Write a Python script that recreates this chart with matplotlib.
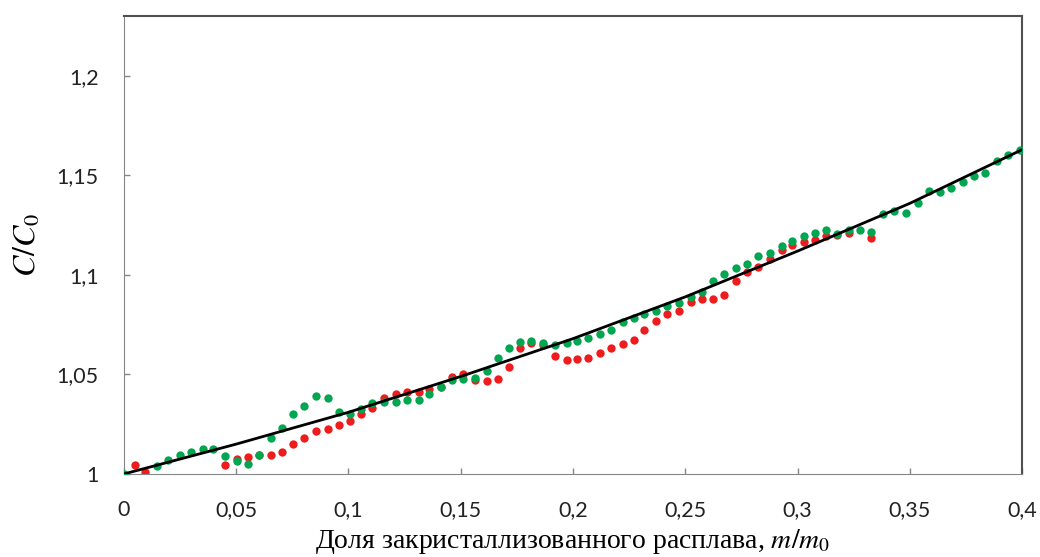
import matplotlib
matplotlib.use("Agg")
import matplotlib.pyplot as plt
from matplotlib.ticker import FixedLocator, FuncFormatter

plt.rcParams['mathtext.fontset'] = 'stix'

# Green series (measured)
green_x = [0.0, 0.0148, 0.0199, 0.0249, 0.0301, 0.0353, 0.0399, 0.0451, 0.0502,
           0.0552, 0.0604, 0.0656, 0.0706, 0.0753, 0.0803, 0.0855, 0.0907, 0.0959,
           0.1009, 0.1056, 0.1107, 0.1159, 0.1211, 0.1262, 0.1314, 0.1360, 0.1410,
           0.1461, 0.1511, 0.1563, 0.1616, 0.1668, 0.1715, 0.1764, 0.1814, 0.1868,
           0.1920, 0.1972, 0.2016, 0.2067, 0.2119, 0.2171, 0.2221, 0.2272, 0.2318,
           0.2370, 0.2420, 0.2472, 0.2524, 0.2576, 0.2625, 0.2672, 0.2724, 0.2775,
           0.2825, 0.2877, 0.2929, 0.2976, 0.3026, 0.3076, 0.3128, 0.3177, 0.3230,
           0.3278, 0.3328, 0.3379, 0.3431, 0.3483, 0.3534, 0.3584, 0.3635, 0.3682,
           0.3735, 0.3786, 0.3835, 0.3887, 0.3936, 0.3988]
green_y = [1.0000, 1.0039, 1.0072, 1.0097, 1.0112, 1.0127, 1.0124, 1.0091, 1.0066,
           1.0052, 1.0097, 1.0183, 1.0233, 1.0300, 1.0344, 1.0390, 1.0381, 1.0312,
           1.0299, 1.0329, 1.0358, 1.0363, 1.0363, 1.0374, 1.0374, 1.0403, 1.0435,
           1.0472, 1.0479, 1.0484, 1.0519, 1.0581, 1.0633, 1.0661, 1.0668, 1.0658,
           1.0646, 1.0656, 1.0666, 1.0685, 1.0705, 1.0724, 1.0764, 1.0782, 1.0803,
           1.0818, 1.0845, 1.0861, 1.0888, 1.0912, 1.0972, 1.1003, 1.1036, 1.1053,
           1.1093, 1.1112, 1.1145, 1.1172, 1.1196, 1.1213, 1.1224, 1.1205, 1.1224,
           1.1224, 1.1217, 1.1308, 1.1321, 1.1313, 1.1360, 1.1422, 1.1417, 1.1436,
           1.1469, 1.1499, 1.1513, 1.1570, 1.1604, 1.1626]

# Red series (measured)
red_x = [0.0049, 0.0095, 0.0451, 0.0502, 0.0552, 0.0604, 0.0656, 0.0706, 0.0753,
         0.0803, 0.0855, 0.0907, 0.0959, 0.1009, 0.1056, 0.1107, 0.1159, 0.1211,
         0.1262, 0.1314, 0.1360, 0.1410, 0.1461, 0.1511, 0.1563, 0.1616, 0.1668,
         0.1715, 0.1764, 0.1814, 0.1868, 0.1920, 0.1972, 0.2016, 0.2067, 0.2119,
         0.2171, 0.2221, 0.2272, 0.2318, 0.2370, 0.2420, 0.2472, 0.2524, 0.2576,
         0.2625, 0.2672, 0.2724, 0.2775, 0.2825, 0.2877, 0.2929, 0.2976, 0.3026,
         0.3076, 0.3128, 0.3177, 0.3230, 0.3328]
red_y = [1.0047, 1.0009, 1.0045, 1.0075, 1.0086, 1.0094, 1.0096, 1.0111, 1.0149,
         1.0183, 1.0215, 1.0227, 1.0245, 1.0265, 1.0302, 1.0334, 1.0380, 1.0400,
         1.0412, 1.0412, 1.0427, 1.0439, 1.0487, 1.0500, 1.0470, 1.0469, 1.0479,
         1.0537, 1.0631, 1.0660, 1.0650, 1.0594, 1.0574, 1.0576, 1.0581, 1.0608,
         1.0631, 1.0653, 1.0674, 1.0725, 1.0771, 1.0805, 1.0821, 1.0865, 1.0878,
         1.0878, 1.0900, 1.0969, 1.1014, 1.1041, 1.1082, 1.1123, 1.1149, 1.1167,
         1.1177, 1.1194, 1.1200, 1.1210, 1.1184]

# Model curve
line_x = [0.0, 0.05, 0.1, 0.15, 0.2, 0.25, 0.3, 0.35, 0.4]
line_y = [1.000, 1.015, 1.031, 1.049, 1.068, 1.089, 1.112, 1.136, 1.163]

x_ticks = [0, 0.05, 0.1, 0.15, 0.2, 0.25, 0.3, 0.35, 0.4]
y_ticks = [1, 1.05, 1.1, 1.15, 1.2]


def comma(v, pos=None):
    return f"{v:g}".replace(".", ",")


fig = plt.figure(figsize=(10.4, 5.57), dpi=100)
ax = fig.add_axes([0.119, 0.149, 0.864, 0.822])

ax.plot(red_x, red_y, 'o', color='#EE1C1C', ms=6, mec='none', zorder=2)
ax.plot(green_x, green_y, 'o', color='#00A650', ms=6, mec='none', zorder=3)
ax.plot(line_x, line_y, color='black', lw=2, zorder=4)

ax.set_xlim(0, 0.4)
ax.set_ylim(1, 1.23)
ax.xaxis.set_major_locator(FixedLocator(x_ticks))
ax.yaxis.set_major_locator(FixedLocator(y_ticks))
ax.xaxis.set_major_formatter(FuncFormatter(comma))
ax.yaxis.set_major_formatter(FuncFormatter(comma))

ax.tick_params(direction='in', length=4, width=1, colors='#868686',
               labelcolor='#222222', labelsize=15.5, pad=18)
ax.tick_params(axis='x', top=False, pad=19)
ax.tick_params(axis='y', right=False)
for lab in ax.get_xticklabels() + ax.get_yticklabels():
    lab.set_family('Lato')

for side in ['left', 'bottom']:
    ax.spines[side].set_color('#868686')
for side in ['top', 'right']:
    ax.spines[side].set_color('#505050')
    ax.spines[side].set_linewidth(1.5)

ax.set_xlabel(r'Доля закристаллизованного расплава, $\mathit{m/m_0}$',
              family='Liberation Serif', fontsize=20, labelpad=5)
ax.set_ylabel(r'$\mathit{C/C_0}$', fontsize=23, labelpad=10)

fig.savefig('out.png', dpi=100)
